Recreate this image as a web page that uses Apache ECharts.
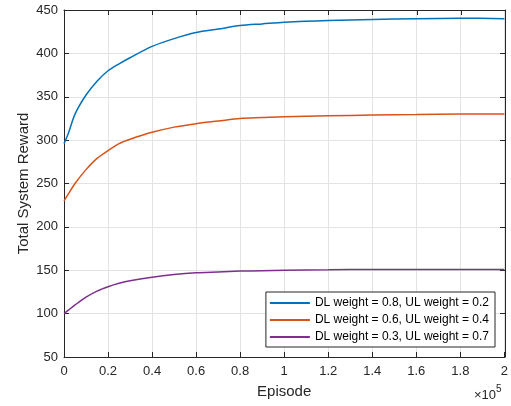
<!DOCTYPE html>
<html>
<head>
<meta charset="utf-8">
<script src="https://cdn.jsdelivr.net/npm/echarts@6/dist/echarts.min.js"></script>
<style>
html,body{margin:0;padding:0;background:#fff;}
#chart{width:511px;height:406px;}
</style>
</head>
<body>
<div id="chart"></div>
<script>
// episodes
var episodes = [0, 2000, 5000, 10000, 15000, 20000, 25000, 30000, 40000, 50000, 60000, 70000, 80000, 90000, 100000, 120000, 140000, 160000, 180000, 200000];
var reward08 = [296, 308, 330, 352, 368, 380, 388, 395, 408, 417, 424, 428, 432, 434, 436, 438, 439, 440, 440.5, 440];
var reward06 = [230, 238, 250, 266, 279, 288, 296, 301, 309, 315, 319, 322, 325, 326, 327, 328, 329, 329.5, 330, 330];
var reward03 = [100, 104, 110, 119, 126, 131, 135, 138, 142, 145, 147, 148, 149, 149.5, 150, 150.5, 151, 151, 151, 151];
var names = ['DL weight = 0.8, UL weight = 0.2', 'DL weight = 0.6, UL weight = 0.4', 'DL weight = 0.3, UL weight = 0.7'];
var colors = ['#0072BD', '#D95319', '#7E2F8E'];

function pairs(ys){
	var out = [];
	for(var i=0;i<episodes.length;i++){
		out.push([episodes[i], ys[i]]);
	}
	return out;
}

var font = 'Liberation Sans, Arial, sans-serif';
var axisCol = '#262626';

var myChart = echarts.init(document.getElementById('chart'));
// second grid on top of the first one: its axes give the top/right inner ticks
function boxAxis(extra){
	var a = {
		type: 'value', gridIndex: 1,
		axisLine: {show: true, onZero: false, lineStyle: {color: axisCol, width: 1}},
		axisTick: {show: true, inside: true, length: 5, lineStyle: {color: axisCol, width: 1}},
		axisLabel: {show: false},
		splitLine: {show: false}
	};
	for(var k in extra) a[k] = extra[k];
	return a;
}
var gridBox = {left: 64, right: 6, top: 10, bottom: 49};
var option = {
	animation: false,
	grid: [
		{left: gridBox.left, right: gridBox.right, top: gridBox.top, bottom: gridBox.bottom},
		{left: gridBox.left, right: gridBox.right, top: gridBox.top, bottom: gridBox.bottom}
	],
	xAxis: [{
		type: 'value', gridIndex: 0, min: 0, max: 200000, interval: 20000,
		name: 'Episode', nameLocation: 'middle', nameGap: 27,
		nameTextStyle: {fontFamily: font, fontSize: 15, color: axisCol},
		axisLine: {show: true, onZero: false, lineStyle: {color: axisCol}},
		axisTick: {inside: true, length: 5, lineStyle: {color: axisCol}},
		axisLabel: {fontFamily: font, fontSize: 13, color: axisCol, margin: 8,
			formatter: function(v){ return String(parseFloat((v/1e5).toFixed(1))); }},
		splitLine: {show: true, lineStyle: {color: '#e3e3e3', width: 1}}
	}, boxAxis({position: 'top', min: 0, max: 200000, interval: 20000})],
	yAxis: [{
		type: 'value', gridIndex: 0, min: 50, max: 450, interval: 50,
		name: 'Total System Reward', nameLocation: 'middle', nameGap: 33, nameMoveOverlap: false,
		nameTextStyle: {fontFamily: font, fontSize: 15, color: axisCol},
		axisLine: {show: true, onZero: false, lineStyle: {color: axisCol}},
		axisTick: {inside: true, length: 5, lineStyle: {color: axisCol}},
		axisLabel: {fontFamily: font, fontSize: 13, color: axisCol, margin: 6},
		splitLine: {show: true, lineStyle: {color: '#e3e3e3', width: 1}}
	}, boxAxis({position: 'right', min: 50, max: 450, interval: 50})],
	legend: {
		orient: 'vertical', right: 16, bottom: 59,
		icon: 'rect', itemWidth: 40, itemHeight: 2, itemGap: 5,
		padding: [5, 6, 4, 4],
		backgroundColor: '#fff', borderColor: axisCol, borderWidth: 1,
		textStyle: {fontFamily: font, fontSize: 12, color: '#000', padding: [0, 0, 0, 0], lineHeight: 12},
		data: names
	},
	graphic: [{
		type: 'text', left: 474, top: 384,
		style: {
			text: '{a|×10}{b|5}',
			rich: {
				a: {fontFamily: font, fontSize: 13, fill: axisCol, verticalAlign: 'bottom'},
				b: {fontFamily: font, fontSize: 10, fill: axisCol, padding: [0, 0, 8, 0]}
			}
		}
	}],
	series: [{
		// invisible helper for the second grid
		type: 'line', data: [[0, 50], [200000, 450]], xAxisIndex: 1, yAxisIndex: 1,
		symbol: 'none', silent: true, lineStyle: {opacity: 0}
	}]
};
var all = [reward08, reward06, reward03];
for(var i=0;i<all.length;i++){
	option.series.push({
		name: names[i], type: 'line', data: pairs(all[i]),
		xAxisIndex: 0, yAxisIndex: 0,
		symbol: 'none', smooth: 0.3,
		lineStyle: {color: colors[i], width: 1.5},
		itemStyle: {color: colors[i]}
	});
}
myChart.setOption(option);
</script>
</body>
</html>
